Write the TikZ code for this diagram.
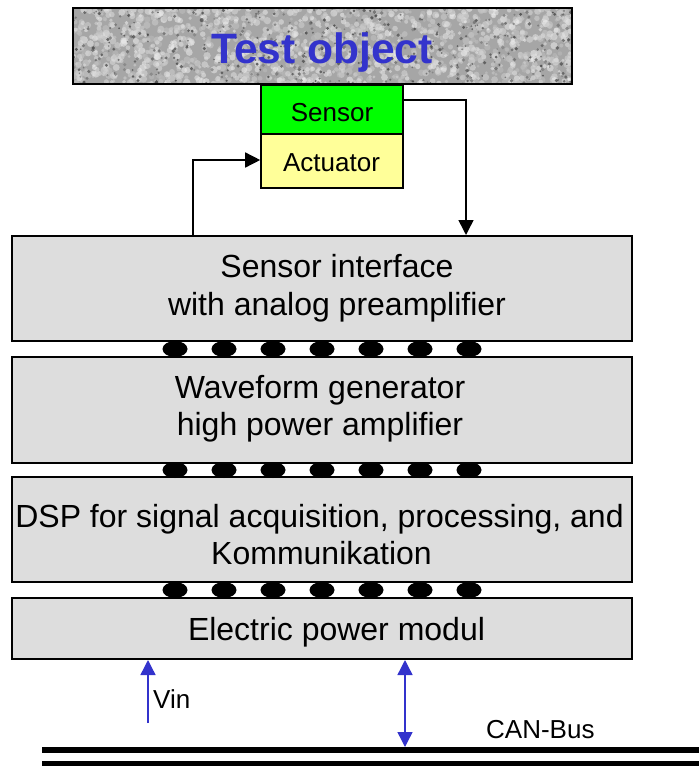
\documentclass[tikz,border=0pt]{standalone}
\usepackage{fontspec}
\setmainfont{Liberation Sans}
\usetikzlibrary{arrows.meta}
\definecolor{boxgray}{HTML}{DDDDDD}
\definecolor{objgray}{HTML}{A6A6A6}
\definecolor{sensgreen}{HTML}{00FF00}
\definecolor{actyellow}{HTML}{FFFF99}
\definecolor{tblue}{HTML}{3333CC}
\begin{document}
\begin{tikzpicture}[x=1pt,y=-1pt,
  layerbox/.style={draw=black, line width=2pt, fill=boxgray, rectangle, inner sep=0pt, minimum width=620pt},
  smallbox/.style={draw=black, line width=1.6pt, rectangle, inner sep=0pt, minimum width=142pt, font=\fontsize{26}{30}\selectfont},
  boxtext/.style={anchor=base, inner sep=0pt, font=\fontsize{32}{38}\selectfont},
  lbl/.style={anchor=base west, inner sep=0pt, font=\fontsize{26}{30}\selectfont},
  arr/.style={line width=1.5pt, -{Triangle[length=15pt,width=15pt]}},
  barr/.style={draw=tblue, line width=1.4pt, -{Triangle[length=15pt,width=15pt]}},
  bbarr/.style={draw=tblue, line width=1.4pt, {Triangle[length=15pt,width=15pt]}-{Triangle[length=15pt,width=15pt]}},
  bus/.style={line width=6pt},
  connector/.style={fill=black}
]
\useasboundingbox (0,0) rectangle (699,766);

% Test object with mottled texture
\fill[objgray] (73,8) rectangle (572,84);
\begin{scope}
  \clip (73,8) rectangle (572,84);
  \pgfmathsetseed{4242}
  \foreach \i in {1,...,1500}{
    \pgfmathsetmacro\px{73+499*rnd}
    \pgfmathsetmacro\py{8+76*rnd}
    \pgfmathsetmacro\rr{1.5+2.2*rnd}
    \pgfmathsetmacro\sh{5+22*rnd}
    \fill[black!\sh, opacity=0.55] (\px,\py) circle[radius=\rr];
  }
  \foreach \i in {1,...,450}{
    \pgfmathsetmacro\px{73+499*rnd}
    \pgfmathsetmacro\py{8+76*rnd}
    \pgfmathsetmacro\rr{0.8+1.2*rnd}
    \pgfmathsetmacro\sh{50+30*rnd}
    \fill[black!\sh, opacity=0.7] (\px,\py) circle[radius=\rr];
  }
\end{scope}
\node[draw=black, line width=2pt, rectangle, inner sep=0pt, minimum width=499pt, minimum height=76pt] (obj) at (322.5,46) {};
\node[anchor=base, inner sep=0pt, text=tblue, font=\fontsize{42.5}{50}\selectfont\bfseries] (objtext) at (322,63) {Test object};

% Sensor and actuator
\node[smallbox, fill=sensgreen, minimum height=49pt] (sensor) at (332,109.5) {};
\node[smallbox, fill=actyellow, minimum height=54pt] (act) at (332,161) {};
\node[anchor=base, inner sep=0pt, font=\fontsize{26}{30}\selectfont] (senstext) at (332,121) {Sensor};
\node[anchor=base, inner sep=0pt, font=\fontsize{26}{30}\selectfont] (acttext) at (331.5,171) {Actuator};

% Layer boxes
\node[layerbox, minimum height=105pt] (box1) at (322,288.5) {};
\node[layerbox, minimum height=105.5pt] (box2) at (322,410) {};
\node[layerbox, minimum height=105pt] (box3) at (322,529.5) {};
\node[layerbox, minimum height=61pt] (box4) at (322,628.5) {};

\node[boxtext] (t1a) at (337,277) {Sensor interface};
\node[boxtext] (t1b) at (337,315) {with analog preamplifier};
\node[boxtext] (t2a) at (320,398) {Waveform generator};
\node[boxtext] (t2b) at (320,435) {high power amplifier};
\node[boxtext] (t3a) at (319.5,527) {DSP for signal acquisition, processing, and};
\node[boxtext] (t3b) at (321.5,564) {Kommunikation};
\node[boxtext] (t4) at (336.5,640) {Electric power modul};

% Connectors between layers
\foreach \yy in {349,470,590}{
  \foreach \k in {0,...,6}{
    \fill[connector] ({175+49*\k},\yy) ellipse[x radius=12.5, y radius=8];
  }
}

% Signal arrows
\draw[arr] ([yshift=9.5pt]sensor.east) -| ([xshift=144pt]box1.north);
\draw[arr] ([xshift=-129pt]box1.north) |- ([yshift=1pt]act.west);

% Bus
\coordinate (busl) at (42,750);
\coordinate (busr) at (699,750);
\coordinate (bus2l) at (42,764);
\coordinate (bus2r) at (699,764);
\draw[bus] (busl) -- (busr);
\draw[bus] (bus2l) -- (bus2r);

% Vin and CAN arrows
\coordinate (vin) at (148,723);
\draw[barr] (vin) -- (vin |- box4.south);
\coordinate (can) at (405,747);
\draw[bbarr] (can) -- (can |- box4.south);

\node[lbl] (vinlbl) at (153,708) {Vin};
\node[lbl] (canlbl) at (486,738) {CAN-Bus};
\end{tikzpicture}
\end{document}
